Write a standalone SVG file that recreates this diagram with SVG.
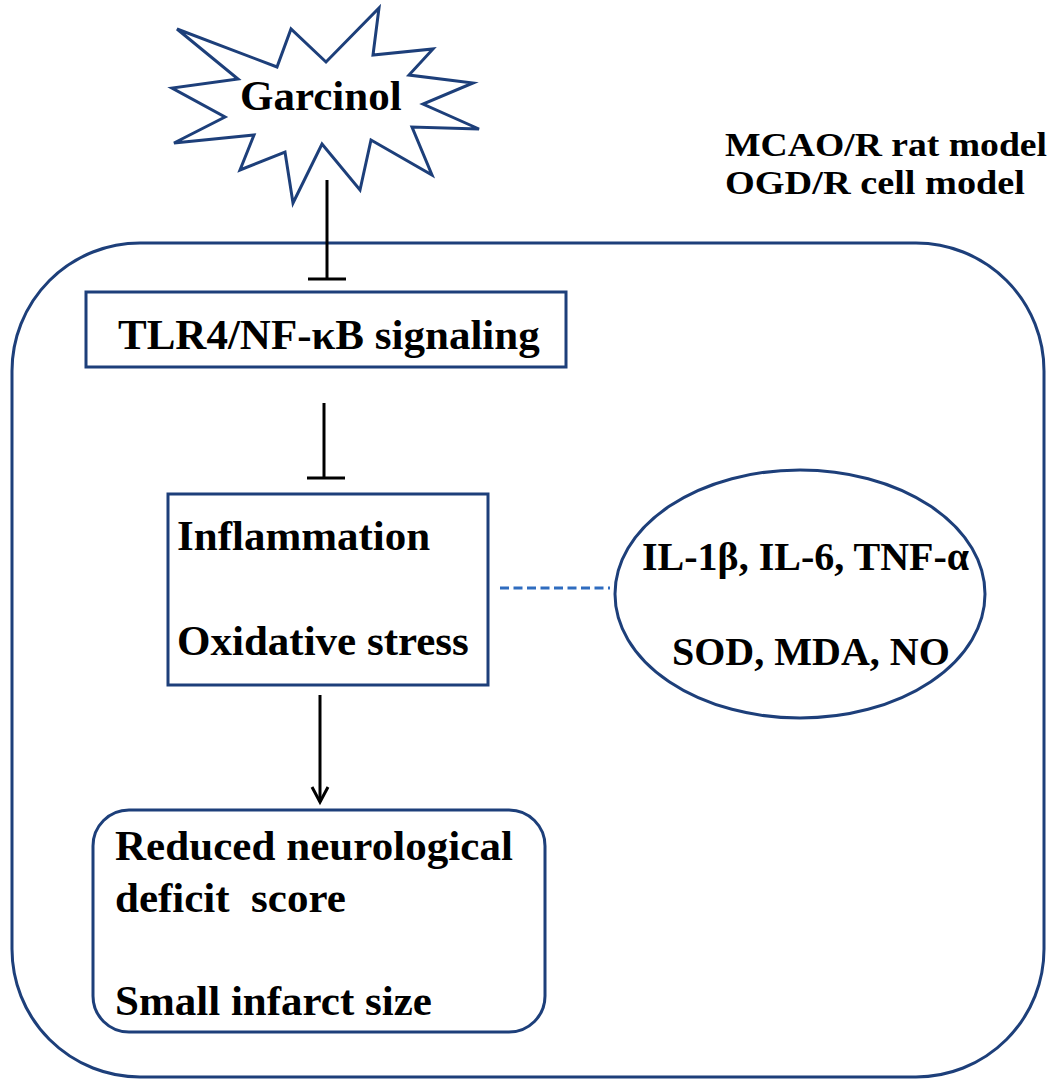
<svg xmlns="http://www.w3.org/2000/svg" width="1060" height="1085" viewBox="0 0 1060 1085">
<defs>
<style>
.box{fill:none;stroke:#1d3f7a;stroke-width:3}
.t{font-family:"Liberation Serif","Times New Roman",serif;font-weight:bold;fill:#000}
.line{stroke:#000;stroke-width:3;fill:none}
</style>
</defs>
<rect width="1060" height="1085" fill="#fff"/>
<g id="context">
<rect class="box" x="12" y="243" width="1032" height="834" rx="128" ry="128"/>
<text class="t" x="725" y="156" font-size="34" textLength="322" lengthAdjust="spacingAndGlyphs">MCAO/R rat model</text>
<text class="t" x="725" y="194" font-size="34" textLength="300" lengthAdjust="spacingAndGlyphs">OGD/R cell model</text>
</g>
<g id="garcinol">
<polygon class="box" stroke-linejoin="miter" points="177,29 277,67 291,29 326,62 379,8 373,55 433,49 409,75 473,83 423,104 479,129 412,127 432,175 371,140 360,190 322,144 293,203 285,152 240,170 254,135 174,143 225,117 172,88 238,79"/>
<text class="t" x="240" y="110" font-size="43">Garcinol</text>
</g>
<g id="tlr4">
<rect class="box" x="86" y="292" width="480" height="75" stroke-width="3.5"/>
<text class="t" x="118" y="349" font-size="43">TLR4/NF-κB signaling</text>
</g>
<g id="inflammation">
<rect class="box" x="168" y="494" width="320" height="191"/>
<text class="t" x="177" y="550" font-size="43">Inflammation</text>
<text class="t" x="177" y="655" font-size="43">Oxidative stress</text>
</g>
<g id="markers">
<ellipse class="box" cx="800" cy="594" rx="185" ry="124"/>
<text class="t" x="642" y="570" font-size="40">IL-1β, IL-6, TNF-α</text>
<text class="t" x="672" y="665" font-size="40">SOD, MDA, NO</text>
</g>
<g id="outcome">
<rect class="box" x="93" y="810" width="452" height="222" rx="36" ry="36"/>
<text class="t" x="115" y="860" font-size="43" textLength="398" lengthAdjust="spacing">Reduced neurological</text>
<text class="t" x="115" y="912" font-size="43" xml:space="preserve">deficit  score</text>
<text class="t" x="115" y="1015" font-size="43">Small infarct size</text>
</g>
<g id="connectors">
<line class="line" x1="327" y1="180" x2="327" y2="279"/>
<line class="line" x1="308" y1="279" x2="346" y2="279"/>
<line class="line" x1="324" y1="403" x2="324" y2="478"/>
<line class="line" x1="307" y1="478" x2="345" y2="478"/>
<line x1="500" y1="588" x2="610" y2="588" stroke="#2f6cbf" stroke-width="3" stroke-dasharray="9,4.5"/>
<line class="line" x1="320" y1="695" x2="320" y2="802"/>
<polyline class="line" points="312,787 320,802 328,787"/>
</g>
</svg>
